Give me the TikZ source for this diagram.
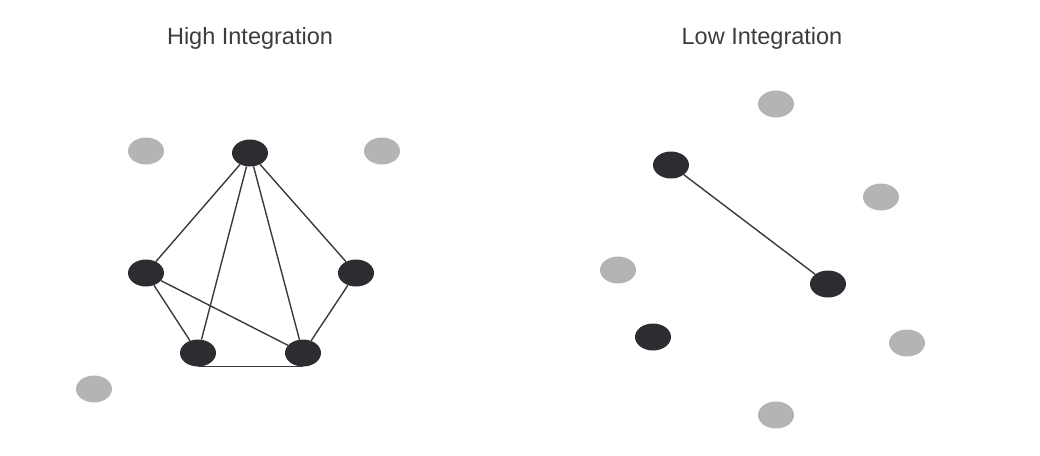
\documentclass[tikz,border=0pt]{standalone}
\usepackage{fontspec}
\setmainfont{Liberation Sans}
\usetikzlibrary{shapes.geometric}
\definecolor{nodedark}{HTML}{2B2D31}
\definecolor{nodepale}{HTML}{B4B4B4}
\definecolor{linkgray}{HTML}{3A3A3A}
\definecolor{titlegray}{HTML}{3C3C3C}

\begin{document}
\begin{tikzpicture}[x=1pt,y=-1pt,
  dark/.style={ellipse,fill=nodedark,minimum width=36pt,minimum height=27pt,inner sep=0pt},
  pale/.style={dark,fill=nodepale},
  link/.style={draw=linkgray,line width=1.4pt},
  heading/.style={text=titlegray,font=\fontsize{23.5}{28}\selectfont}]
  \useasboundingbox (0,0) rectangle (1040,455);

  % high integration
  \node[heading] (hightitle) at (250,38) {High Integration};
  \node[pale] (hp1) at (146,151) {};
  \node[pale] (hp2) at (382,151) {};
  \node[pale] (hp3) at (94,389) {};
  \node[dark] (htop) at (250,153) {};
  \node[dark] (hleft) at (146,273) {};
  \node[dark] (hright) at (356,273) {};
  \node[dark] (hbl) at (198,353) {};
  \node[dark] (hbr) at (303,353) {};
  \draw[link] (htop) -- (hleft);
  \draw[link] (htop) -- (hright);
  \draw[link] (htop) -- (hbl);
  \draw[link] (htop) -- (hbr);
  \draw[link] (hleft) -- (hbl);
  \draw[link] (hleft) -- (hbr);
  \draw[link] (hright) -- (hbr);
  \draw[link] (hbl.south) -- (hbr.south);

  % low integration
  \node[heading] (lowtitle) at (762,38) {Low Integration};
  \node[pale] (lp1) at (776,104) {};
  \node[pale] (lp2) at (881,197) {};
  \node[pale] (lp3) at (618,270) {};
  \node[pale] (lp4) at (907,343) {};
  \node[pale] (lp5) at (776,415) {};
  \node[dark] (ld1) at (671,165) {};
  \node[dark] (ld2) at (828,284) {};
  \node[dark] (ld3) at (653,337) {};
  \draw[link] (ld1) -- (ld2);
\end{tikzpicture}
\end{document}
